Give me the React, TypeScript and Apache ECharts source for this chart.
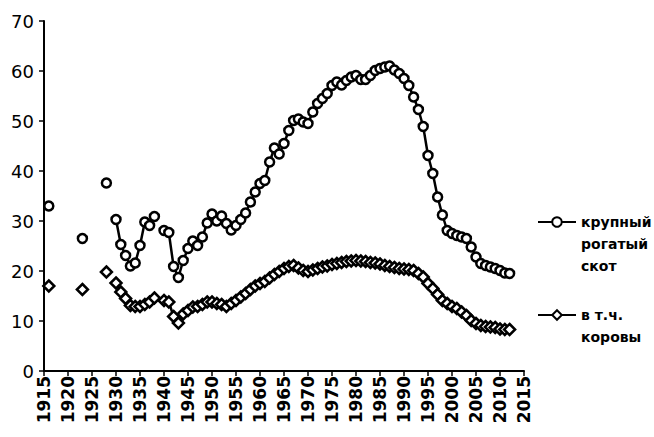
import React, { useEffect, useRef } from "react";
import * as echarts from "echarts";

const years: number[] = [
  1916, 1923, 1928,
  1930, 1931, 1932, 1933, 1934, 1935, 1936, 1937, 1938,
  1940, 1941, 1942, 1943, 1944, 1945, 1946, 1947, 1948, 1949,
  1950, 1951, 1952, 1953, 1954, 1955, 1956, 1957, 1958, 1959,
  1960, 1961, 1962, 1963, 1964, 1965, 1966, 1967, 1968, 1969,
  1970, 1971, 1972, 1973, 1974, 1975, 1976, 1977, 1978, 1979,
  1980, 1981, 1982, 1983, 1984, 1985, 1986, 1987, 1988, 1989,
  1990, 1991, 1992, 1993, 1994, 1995, 1996, 1997, 1998, 1999,
  2000, 2001, 2002, 2003, 2004, 2005, 2006, 2007, 2008, 2009,
  2010, 2011, 2012,
];

const cattle: number[] = [
  33.0, 26.5, 37.6,
  30.3, 25.3, 23.1, 21.0, 21.6, 25.1, 29.8, 29.1, 30.9,
  28.1, 27.7, 20.9, 18.7, 22.1, 24.5, 26.0, 25.1, 26.8, 29.6,
  31.4, 30.0, 31.0, 29.5, 28.2, 29.1, 30.3, 31.6, 33.8, 35.8,
  37.5, 38.1, 41.8, 44.6, 43.4, 45.5, 48.1, 50.1, 50.4, 49.8,
  49.5, 51.8, 53.5, 54.5, 55.5, 57.1, 57.8, 57.2, 58.1, 58.8,
  59.1, 58.3, 58.3, 59.1, 60.1, 60.5, 60.8, 61.0, 60.2, 59.5,
  58.5, 57.1, 54.8, 52.3, 48.9, 43.1, 39.5, 34.8, 31.2, 28.1,
  27.5, 27.1, 26.8, 26.5, 24.8, 22.8, 21.5, 21.1, 20.8, 20.5,
  20.1, 19.6, 19.5,
];

const cows: number[] = [
  17.0, 16.3, 19.8,
  17.6, 15.8, 14.5, 13.1, 12.9, 12.9, 13.3, 13.8, 14.6,
  14.1, 13.8, 10.9, 9.6, 11.4, 12.1, 12.8, 12.9, 13.3, 13.8,
  13.8, 13.5, 13.3, 12.9, 13.5, 14.1, 14.8, 15.5, 16.3, 17.0,
  17.5, 17.9, 18.6, 19.3, 19.9, 20.5, 20.9, 21.1, 20.6, 20.1,
  19.9, 20.2, 20.5, 20.8, 21.0, 21.3, 21.5, 21.7, 21.9, 22.0,
  22.1, 22.0, 21.9, 21.7, 21.6, 21.4, 21.1, 20.9, 20.7, 20.5,
  20.4, 20.3, 20.1, 19.5, 18.8, 17.5, 16.5, 15.3, 14.1, 13.5,
  12.9, 12.5, 11.8, 11.1, 10.1, 9.5, 9.1, 8.9, 8.8, 8.7,
  8.4, 8.3, 8.3,
];

const seriesNames = ["крупный рогатый скот", "в т.ч. коровы"];
const legendLabels: Record<string, string> = {
  "крупный рогатый скот": "\n\nкрупный\nрогатый\nскот",
  "в т.ч. коровы": "\nв т.ч.\nкоровы",
};

function toData(xs: number[], ys: number[]) {
  const out: (number | string)[][] = [];
  for (let i = 0; i < xs.length; i++) {
    if (i > 0 && xs[i] - xs[i - 1] > 1) out.push([xs[i - 1] + 1, "-"]);
    out.push([xs[i], ys[i]]);
  }
  return out;
}

const FONT = "DejaVu Sans";

export default function App() {
  const ref = useRef<HTMLDivElement>(null);
  useEffect(() => {
    if (!ref.current) return;
    const chart = echarts.init(ref.current, null, { renderer: "svg" });
    const lineCommon = {
      type: "line" as const,
      connectNulls: false,
      showAllSymbol: true,
      lineStyle: { color: "#000", width: 2.5 },
      itemStyle: { color: "#fff", borderColor: "#000", borderWidth: 2.5 },
    };
    chart.setOption({
      animation: false,
      backgroundColor: "#fff",
      grid: { left: 44, right: 130, top: 21, bottom: 66, containLabel: false },
      xAxis: {
        type: "value",
        min: 1915,
        max: 2015,
        interval: 5,
        axisLine: { show: true, lineStyle: { color: "#000", width: 2 } },
        axisTick: { show: true, inside: false, length: 5, lineStyle: { color: "#000", width: 1.5 } },
        axisLabel: {
          rotate: 90,
          color: "#000",
          fontSize: 17,
          fontWeight: "bold",
          fontFamily: FONT,
          margin: 5,
          formatter: (v: number) => String(v),
        },
        splitLine: { show: false },
      },
      yAxis: {
        type: "value",
        min: 0,
        max: 70,
        interval: 10,
        axisLine: { show: true, lineStyle: { color: "#000", width: 2 } },
        axisTick: { show: true, inside: false, length: 5, lineStyle: { color: "#000", width: 1.5 } },
        axisLabel: { color: "#000", fontSize: 18, fontFamily: FONT, margin: 10 },
        splitLine: { show: false },
      },
      legend: {
        orient: "vertical",
        left: 537,
        top: 167,
        padding: 0,
        itemGap: 5,
        itemWidth: 38,
        itemHeight: 12,
        data: seriesNames,
        formatter: (name: string) => legendLabels[name] || name,
        textStyle: { color: "#000", fontSize: 14, fontWeight: "bold", fontFamily: FONT, lineHeight: 22 },
      },
      series: [
        { ...lineCommon, name: seriesNames[0], symbol: "circle", symbolSize: 9, data: toData(years, cattle) },
        { ...lineCommon, name: seriesNames[1], symbol: "diamond", symbolSize: 11, data: toData(years, cows) },
      ],
    });
    return () => chart.dispose();
  }, []);
  return (
    <div
      ref={ref}
      style={{ position: "absolute", left: 0, top: 0, width: 654, height: 437, background: "#fff" }}
    />
  );
}
